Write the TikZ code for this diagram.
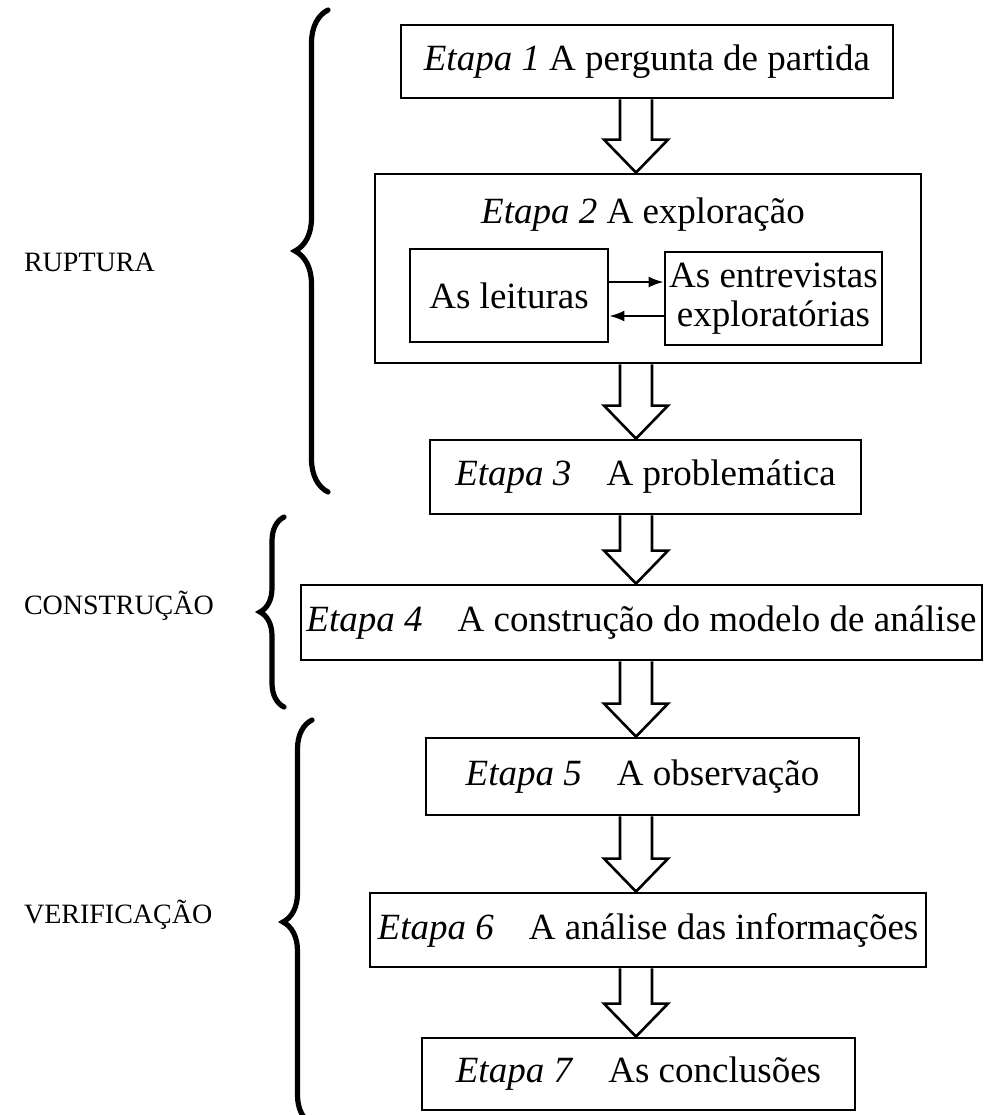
\documentclass[tikz,border=0pt]{standalone}
\usepackage{fontspec}
\setmainfont{Liberation Serif}
\usetikzlibrary{calc,arrows.meta,decorations.pathreplacing}

\begin{document}
\begin{tikzpicture}[x=0.5pt,y=-0.5pt,
		stage/.style={draw, line width=1.4pt, inner sep=0pt, align=center, font=\fontsize{18.5}{19.5}\selectfont},
		phase/.style={anchor=west, font=\fontsize{14}{16}\selectfont},
		bigarrow/.style={line width=1.3pt, line join=miter},
		curly/.style={decorate, decoration={brace, amplitude=#1}, line width=2.6pt, line cap=round},
		smallarrow/.style={line width=1pt, -{Latex[length=7.5pt,width=5.5pt]}}]
			\def \sw{16};
			\def \hw{32};
			\def \hl{33};
			\useasboundingbox (0,0) rectangle (984,1115);
			\coordinate (ax) at (636,0);
			\node[stage, minimum width=246pt, minimum height=36.5pt] (e1) at (647,61.5) {\textit{Etapa 1} A pergunta de partida};
			\node[stage, minimum width=273pt, minimum height=94.5pt] (e2) at (648,268.5) {};
			\node[font=\fontsize{18.5}{19.5}\selectfont] (e2t) at (643,215) {\textit{Etapa 2} A exploração};
			\node[stage, minimum width=99pt, minimum height=46.5pt] (le) at (509,295.5) {As leituras};
			\node[stage, minimum width=108.5pt, minimum height=46.5pt] (en) at (773.5,298.5) {As entrevistas\\exploratórias};
			\node[stage, minimum width=215.5pt, minimum height=37pt] (e3) at (645.5,477) {\textit{Etapa 3}\hspace{0.7em} A problemática};
			\node[stage, minimum width=340.5pt, minimum height=37.5pt] (e4) at (641.5,622.5) {\textit{Etapa 4}\hspace{0.7em} A construção do modelo de análise};
			\node[stage, minimum width=216.5pt, minimum height=38.5pt] (e5) at (642.5,776.5) {\textit{Etapa 5}\hspace{0.7em} A observação};
			\node[stage, minimum width=278pt, minimum height=37pt] (e6) at (648,930) {\textit{Etapa 6}\hspace{0.7em} A análise das informações};
			\node[stage, minimum width=216.5pt, minimum height=36pt] (e7) at (638.5,1074) {\textit{Etapa 7}\hspace{0.7em} As conclusões};
			\node[phase] (rup) at (17,262) {RUPTURA};
			\node[phase] (con) at (17,606) {CONSTRUÇÃO};
			\node[phase] (ver) at (17,915) {VERIFICAÇÃO};
			\foreach \a/\b in {e1/e2, e2/e3, e3/e4, e4/e5, e5/e6, e6/e7}
				\draw[bigarrow] ($(\a.south -| ax)+(-\sw,0)$) -- ($(\b.north -| ax)+(-\sw,-\hl)$) -- ($(\b.north -| ax)+(-\hw,-\hl)$) -- (\b.north -| ax) -- ($(\b.north -| ax)+(\hw,-\hl)$) -- ($(\b.north -| ax)+(\sw,-\hl)$) -- ($(\a.south -| ax)+(\sw,0)$);
			\path ([yshift=6.75pt]le.east) coordinate (go);
			\path ([yshift=-8.75pt]en.west) coordinate (back);
			\draw[smallarrow] (go) -- (go -| en.west);
			\draw[smallarrow] (back) -- (back -| le.east);
			\draw[curly=16.5pt] (328,492) -- (328,10);
			\draw[curly=12pt] (284,707) -- (284,517);
			\draw[curly=14.5pt] (312,1124) -- (312,720);
		\end{tikzpicture}
\end{document}
